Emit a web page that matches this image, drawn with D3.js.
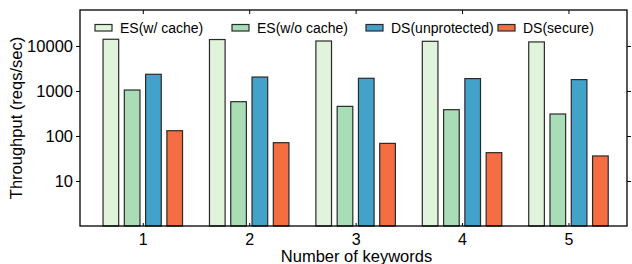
<!DOCTYPE html>
<meta charset="utf-8">
<html lang="en">
<head>
<style>
  body { margin: 0; background: #fff; }
  text { font-family: "Liberation Sans", Arial, sans-serif; fill: #000; }
</style>
<script src="https://d3js.org/d3.v7.min.js"></script>
</head>
<body>
<div id="chart"></div>
<script>
// data
var keywords = [1, 2, 3, 4, 5];
var seriesNames = ["ES(w/ cache)", "ES(w/o cache)", "DS(unprotected)", "DS(secure)"];
var esCache   = [14100, 13900, 12900, 12700, 12300];
var esNoCache = [1050, 578, 455, 384, 308];
var dsUnprot  = [2350, 2040, 1915, 1885, 1790];
var dsSecure  = [131, 71, 68.5, 42.6, 36];
var yTicks = [10, 100, 1000, 10000];
var colors = ["#e0f3db", "#a8ddb5", "#43a2ca", "#f46d43"];

var series = [esCache, esNoCache, dsUnprot, dsSecure];

var width = 632, height = 264;
var margin = {top: 10, right: 5, bottom: 38, left: 80};
var w = width - margin.left - margin.right,
    h = height - margin.top - margin.bottom;

var svg = d3.select("#chart").append("svg")
  .attr("width", width).attr("height", height);
var g = svg.append("g").attr("transform", "translate(" + margin.left + "," + margin.top + ")");

var x = d3.scaleLinear().domain([0.41, 5.55]).range([0, w]);
var y = d3.scaleLog().domain([1, 63000]).range([h, 0]);

var barW = 0.147;
var offsets = [-0.3, -0.1, 0.1, 0.3];

// bars
series.forEach(function (vals, si) {
  g.selectAll(".bar" + si)
    .data(vals)
    .enter().append("rect")
    .attr("x", function (d, i) { return x(keywords[i] + offsets[si] - barW / 2); })
    .attr("width", x(barW) - x(0))
    .attr("y", function (d) { return y(d); })
    .attr("height", function (d) { return h - y(d); })
    .attr("fill", colors[si])
    .attr("stroke", "#2a2a2a")
    .attr("stroke-width", 1.2);
});

// axes
var yAxis = g.append("g")
  .call(d3.axisLeft(y).tickValues(yTicks).tickFormat(d3.format("d")).tickSize(4).tickPadding(3));
yAxis.selectAll("text").style("font-size", "16.5px");
g.append("g").attr("transform", "translate(" + w + ",0)")
  .call(d3.axisRight(y).tickValues(yTicks).tickSize(4).tickFormat(""));

var xAxis = g.append("g").attr("transform", "translate(0," + h + ")")
  .call(d3.axisBottom(x).tickValues(keywords).tickFormat(d3.format("d")).tickSize(-3).tickPadding(8));
xAxis.selectAll("text").style("font-size", "16px");
g.append("g")
  .call(d3.axisTop(x).tickValues(keywords).tickSize(-4).tickFormat(""));

g.selectAll(".domain").remove();
g.selectAll(".tick line").attr("stroke", "#000");

// frame
g.append("rect").attr("width", w).attr("height", h)
  .attr("fill", "none").attr("stroke", "#000").attr("stroke-width", 1.3);

// axis titles
svg.append("text")
  .attr("x", margin.left + w / 2 + 3).attr("y", 262)
  .attr("text-anchor", "middle").style("font-size", "16.5px")
  .text("Number of keywords");
svg.append("text")
  .attr("transform", "translate(22," + (margin.top + h / 2) + ") rotate(-90)")
  .attr("text-anchor", "middle").style("font-size", "16.5px")
  .text("Throughput (reqs/sec)");

// legend
var legX = [95, 232, 366, 498];
var legend = svg.append("g");
seriesNames.forEach(function (name, i) {
  legend.append("rect")
    .attr("x", legX[i]).attr("y", 24.5).attr("width", 17).attr("height", 6.5)
    .attr("fill", colors[i]).attr("stroke", "#2a2a2a").attr("stroke-width", 1.2);
  legend.append("text")
    .attr("x", legX[i] + 25).attr("y", 33)
    .style("font-size", "14px")
    .text(name);
});
</script>
</body>
</html>
